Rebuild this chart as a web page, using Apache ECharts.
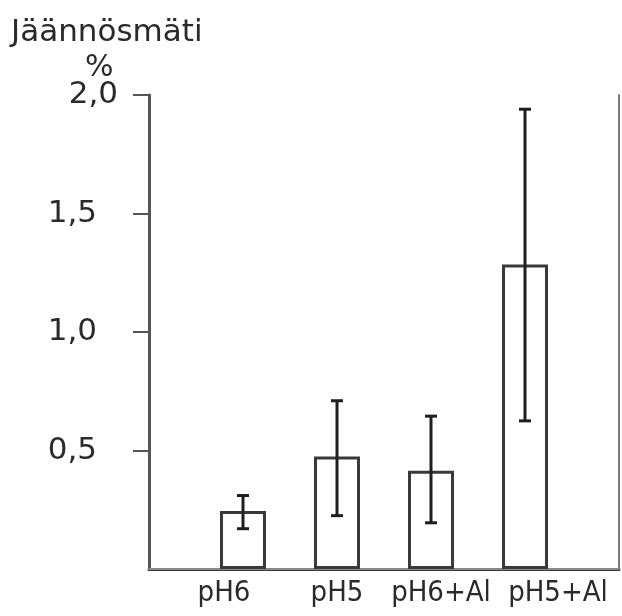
<!DOCTYPE html>
<html>
<head>
<meta charset="utf-8">
<script src="https://cdn.jsdelivr.net/npm/echarts@6/dist/echarts.min.js"></script>
<style>
  html, body { margin: 0; padding: 0; background: #fff; }
  #chart { width: 622px; height: 616px; }
</style>
</head>
<body>
<div id="chart"></div>
<script>
// groups on the x axis (empty slots at both ends give the spacing)
const groups = ['', 'pH6', 'pH5', 'pH6+Al', 'pH5+Al', ''];
// mean residual roe, %
const means = [null, 0.245, 0.475, 0.415, 1.285, null];
// error bar limits
const lowErr = [null, 0.17, 0.225, 0.195, 0.625, null];
const highErr = [null, 0.31, 0.71, 0.645, 1.94, null];
const yTicks = [0.5, 1.0, 1.5, 2.0];

const ink = '#2a2a2a';
const font = 'DejaVu Sans';
const xFont = 'DejaVu Sans Condensed';

let chart = echarts.init(document.getElementById('chart'));

const errData = groups.map((g, i) => [i, lowErr[i], highErr[i]]).filter(d => d[1] != null);

chart.setOption({
  animation: false,
  backgroundColor: '#fff',
  textStyle: { fontFamily: font },
  title: [
    { text: 'Jäännösmäti', left: 6, top: 12,
      textStyle: { fontFamily: font, fontSize: 31, fontWeight: 'normal', color: ink } },
    { text: '%', left: 80, top: 48,
      textStyle: { fontFamily: font, fontSize: 30, fontWeight: 'normal', color: ink } }
  ],
  grid: { left: 149, right: 3, top: 95, bottom: 47 },
  xAxis: [{
    type: 'category',
    data: groups,
    boundaryGap: false,
    axisLine: { lineStyle: { color: '#3a3a3a', width: 3 } },
    axisTick: { show: false },
    axisLabel: {
      interval: 0,
      margin: 10,
      fontSize: 29,
      color: ink,
      fontFamily: xFont,
      formatter: function (v) {
        if (v === 'pH6') return '{a|' + v + '}';
        if (v === 'pH5+Al') return '{d|' + v + '}';
        if (v === 'pH6+Al') return '{c|' + v + '}';
        return v;
      },
      rich: {
        a: { fontSize: 29, color: ink, fontFamily: xFont, padding: [0, 38, 0, 0] },
        c: { fontSize: 29, color: ink, fontFamily: xFont, padding: [0, 0, 0, 20] },
        d: { fontSize: 29, color: ink, fontFamily: xFont, padding: [0, 0, 0, 66] }
      }
    },
    splitLine: { show: false }
  }, {
    type: 'category',
    data: groups,
    boundaryGap: false,
    position: 'top',
    axisLine: { lineStyle: { color: '#888', width: 2 } },
    axisTick: { show: false },
    axisLabel: { show: false }
  }],
  yAxis: [{
    type: 'value',
    min: 0,
    max: 2,
    interval: 0.5,
    axisLine: { show: true, lineStyle: { color: '#555', width: 3 } },
    axisTick: { show: true, length: 16, customValues: yTicks, lineStyle: { color: '#555', width: 2 } },
    splitLine: { show: false },
    axisLabel: {
      margin: 31,
      fontSize: 31,
      color: ink,
      fontFamily: font,
      customValues: yTicks,
      formatter: function (v) {
        const s = v.toFixed(1).replace('.', ',');
        return v === 2 ? s : '{m|' + s + '}';
      },
      rich: {
        m: { fontSize: 31, color: ink, fontFamily: font, padding: [0, 21, 0, 0] }
      }
    }
  }, {
    type: 'value',
    min: 0,
    max: 2,
    interval: 0.5,
    position: 'right',
    axisLine: { show: true, lineStyle: { color: '#777', width: 2 } },
    axisTick: { show: false },
    axisLabel: { show: false },
    splitLine: { show: false }
  }],
  series: [{
    name: 'Jäännösmäti',
    type: 'bar',
    data: means,
    barWidth: 46,
    itemStyle: { color: '#fff', borderColor: '#3a3a3a', borderWidth: 3 },
    z: 2
  }, {
    type: 'custom',
    data: errData,
    z: 3,
    renderItem: function (params, api) {
      const x = api.value(0);
      const lo = api.coord([x, api.value(1)]);
      const hi = api.coord([x, api.value(2)]);
      const cap = 6;
      const st = { stroke: '#1e1e1e', lineWidth: 3 };
      return {
        type: 'group',
        children: [
          { type: 'line', shape: { x1: lo[0], y1: lo[1], x2: hi[0], y2: hi[1] }, style: st },
          { type: 'line', shape: { x1: lo[0] - cap, y1: lo[1], x2: lo[0] + cap, y2: lo[1] }, style: st },
          { type: 'line', shape: { x1: hi[0] - cap, y1: hi[1], x2: hi[0] + cap, y2: hi[1] }, style: st }
        ]
      };
    }
  }]
});
</script>
</body>
</html>
